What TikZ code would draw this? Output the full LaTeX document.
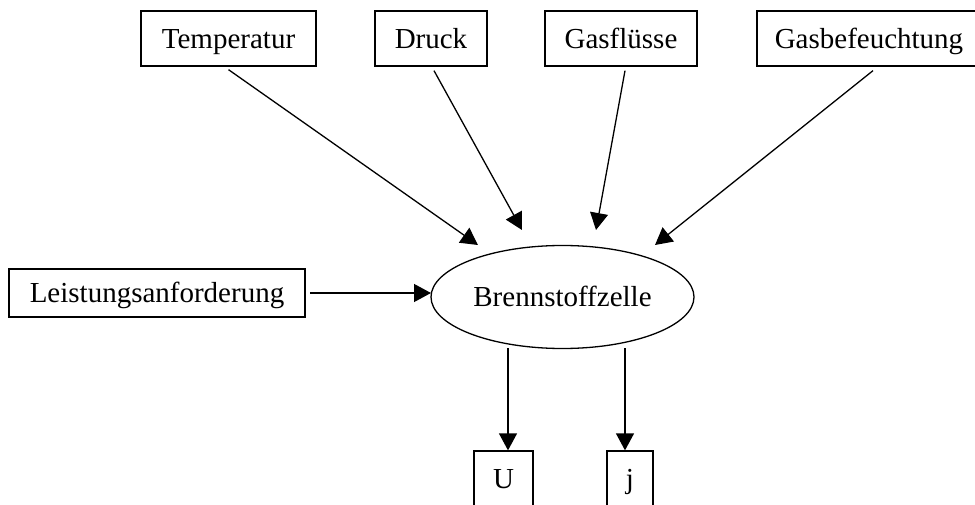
\documentclass[tikz,border=0pt]{standalone}
\usepackage{fontspec}
\setmainfont{Liberation Serif}
\usetikzlibrary{arrows.meta,shapes.geometric}
\begin{document}
\begin{tikzpicture}[x=1pt,y=-1pt,
  every node/.style={inner sep=0pt,text height=19.5pt,text depth=0pt,font=\fontsize{29}{32}\selectfont},
  box/.style={draw,line width=1.3pt,minimum height=55pt},
  conn/.style={line width=1.3pt,-{Triangle[length=17pt,width=18pt]}}]
\useasboundingbox (0,0) rectangle (975,505);
\node[box,minimum width=175pt] (temp) at (228.5,38.5) {Temperatur};
\node[box,minimum width=112pt] (druck) at (431,38.5) {Druck};
\node[box,minimum width=152pt] (gas) at (621,38.5) {Gasflüsse};
\node[box,minimum width=224pt] (befeucht) at (869,38.5) {Gasbefeuchtung};
\node[box,minimum width=296pt,minimum height=48pt] (leist) at (157,293) {Leistungsanforderung};
\node[draw,ellipse,line width=1.3pt,minimum width=263pt,minimum height=103pt] (bz) at (562.5,297) {Brennstoffzelle};
\node[box,minimum width=59pt] (u) at (503.5,478.5) {U};
\node[box,minimum width=46pt] (j) at (630,478.5) {j};
\coordinate (t1) at (478,245);
\coordinate (t2) at (522,230);
\coordinate (t3) at (596,230);
\coordinate (t4) at (655,245);
\coordinate (s5) at (310,293);
\coordinate (t5) at (431,293);
\coordinate (s6) at (508,348);
\coordinate (s7) at (625,348);
\draw[conn] ([yshift=-3pt]temp.south) -- (t1);
\draw[conn] ([xshift=3pt,yshift=-4pt]druck.south) -- (t2);
\draw[conn] ([xshift=4pt,yshift=-4pt]gas.south) -- (t3);
\draw[conn] ([xshift=4pt,yshift=-4pt]befeucht.south) -- (t4);
\draw[conn] (s5) -- (t5);
\draw[conn] (s6) -- (u.north -| s6);
\draw[conn] (s7) -- (j.north -| s7);
\end{tikzpicture}
\end{document}
